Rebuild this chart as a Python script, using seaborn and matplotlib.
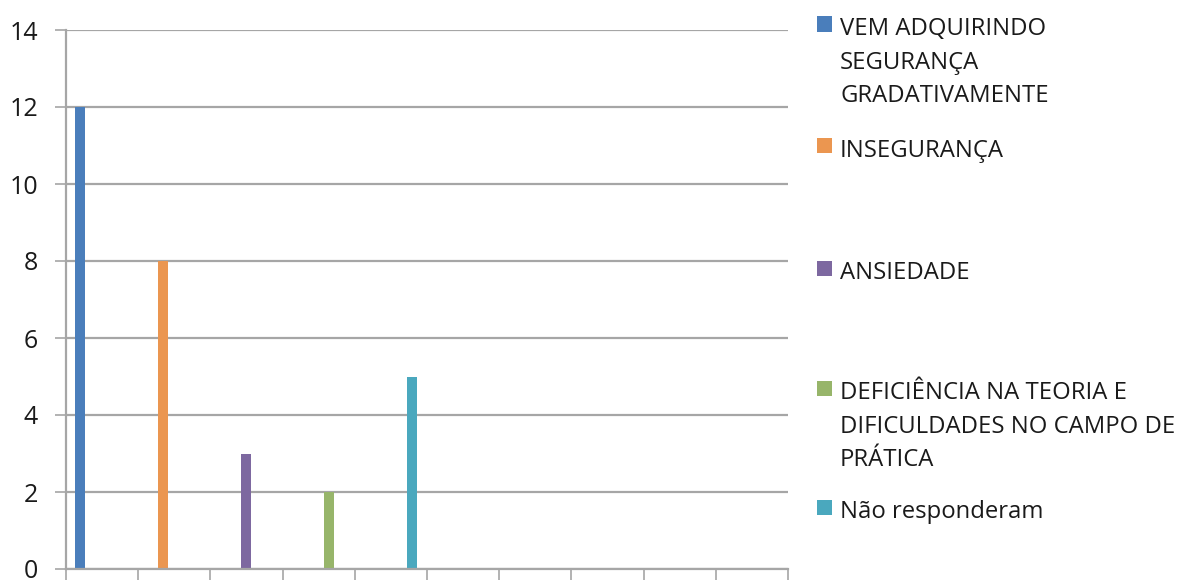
import numpy as np
import pandas as pd
import matplotlib
matplotlib.use("Agg")
import matplotlib.pyplot as plt
from matplotlib.patches import Rectangle
import seaborn as sns

# Survey answers and their counts
categories = [
    "VEM ADQUIRINDO\nSEGURANÇA\nGRADATIVAMENTE",
    "INSEGURANÇA",
    "ANSIEDADE",
    "DEFICIÊNCIA NA TEORIA E\nDIFICULDADES NO CAMPO DE\nPRÁTICA",
    "Não responderam",
]
values = [12, 8, 3, 2, 5]
colors = ["#4A7EBB", "#EB9650", "#7D68A0", "#97B56A", "#4AA8BE"]
y_ticks = [0, 2, 4, 6, 8, 10, 12, 14]

sns.set_theme(style="white")
plt.rcParams["font.family"] = ["Open Sans", "DejaVu Sans"]

W, H = 1188, 581
fig = plt.figure(figsize=(W / 100, H / 100), dpi=100)
ax = fig.add_axes([66 / W, 1 - 569 / H, (788 - 66) / W, (569 - 30) / H])

df = pd.DataFrame({"resposta": categories, "n": values})
sns.barplot(data=df, x="resposta", y="n", hue="resposta", order=categories,
            hue_order=categories, palette=colors, width=0.13, legend=False,
            saturation=1, linewidth=0, ax=ax)

# Axis frame: ten equal slots along x, bars spaced independently
step = 83.0
left = -14.0 / step
slot = 72.2 / step
ax.set_xlim(left, left + 10 * slot)
ax.set_xticks(left + slot * np.arange(11))
ax.set_xticklabels([])
ax.set_ylim(0, 14)
ax.set_yticks(y_ticks)
ax.set_yticklabels([str(v) for v in y_ticks], fontsize=18, color="#1a1a1a")
ax.set_xlabel("")
ax.set_ylabel("")

grid_c = "#A6A6A6"
ax.yaxis.grid(True, color=grid_c, linewidth=1.6)
ax.set_axisbelow(True)
for side in ["top", "right"]:
    ax.spines[side].set_visible(False)
ax.spines["left"].set_color(grid_c)
ax.spines["bottom"].set_color(grid_c)
ax.spines["left"].set_linewidth(1.6)
ax.spines["bottom"].set_linewidth(1.6)
ax.tick_params(axis="both", which="major", direction="out", length=8,
               width=1.2, color=grid_c, left=True, bottom=True)
ax.tick_params(axis="y", pad=12)

# Legend on the right, one entry per answer
entry_y = [26, 148, 270, 390, 509]
for lab, col, yc in zip(categories, colors, entry_y):
    fig.patches.append(Rectangle((817 / W, 1 - (yc + 5.5) / H), 15 / W, 15 / H,
                                 transform=fig.transFigure, facecolor=col,
                                 edgecolor="none"))
    fig.text(840 / W, 1 - (yc - 9) / H, lab, transform=fig.transFigure,
             ha="left", va="top", fontsize=17.2, color="#1a1a1a",
             linespacing=1.53)

fig.savefig("out.png", dpi=100)
